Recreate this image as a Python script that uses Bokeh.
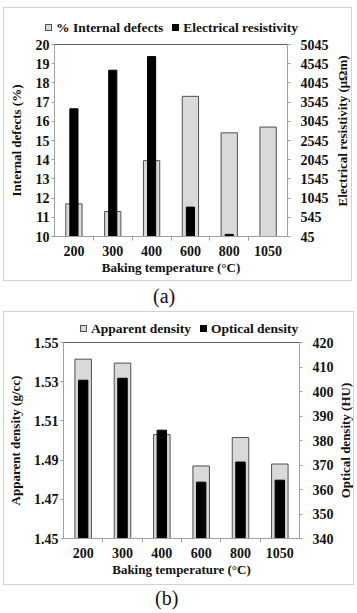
import math
from bokeh.plotting import figure
from bokeh.models import (Range1d, LinearAxis, FixedTicker, ColumnDataSource, Div, Label)
from bokeh.layouts import column, row
from bokeh.embed import file_html
from bokeh.resources import INLINE

temps = ["200", "300", "400", "600", "800", "1050"]
defects = [11.7, 11.3, 13.95, 17.3, 15.4, 15.7]
resistivity = [3370, 4375, 4730, 810, 100, 45]
app_density = [1.5415, 1.5395, 1.503, 1.487, 1.5015, 1.488]
opt_density = [404.6, 405.4, 384.2, 363.0, 371.2, 363.8]

defect_ticks = list(range(10, 21))
resist_ticks = [45, 545, 1045, 1545, 2045, 2545, 3045, 3545, 4045, 4545, 5045]
app_ticks = [1.45, 1.47, 1.49, 1.51, 1.53, 1.55]
opt_ticks = [340, 350, 360, 370, 380, 390, 400, 410, 420]

FONT = "Liberation Serif"
GRAY = "#d9d9d9"
EDGE = "#505050"
AXC = "#a0a0a0"
TXT = "#111111"

xs = [i + 0.5 for i in range(len(temps))]
x_bounds = [float(i) for i in range(1, len(temps))]
labels_map = {x: t for x, t in zip(xs, temps)}


def style_axis(ax):
    ax.major_label_text_font = FONT
    ax.major_label_text_font_style = "bold"
    ax.major_label_text_font_size = "14px"
    ax.major_label_text_color = TXT
    ax.axis_label_text_font = FONT
    ax.axis_label_text_font_style = "bold"
    ax.axis_label_text_font_size = "13px"
    ax.axis_label_text_color = TXT
    ax.axis_line_color = AXC
    ax.major_tick_line_color = AXC
    ax.minor_tick_line_color = AXC
    ax.major_tick_in = 0
    ax.minor_tick_in = 0
    ax.minor_tick_out = 0


def make_panel(width, height, borders, y_rng, y_ticks, y_title, y2_rng, y2_ticks,
               gvals, bvals, bwidth, y_std, r_std):
    bl, br, bt, bb = borders
    p = figure(width=width, height=height, output_backend="svg", toolbar_location=None,
               x_range=Range1d(0, len(temps)), y_range=y_rng,
               min_border_left=bl, min_border_right=br, min_border_top=bt,
               min_border_bottom=bb, margin=0)
    p.background_fill_color = "white"
    p.border_fill_color = "white"
    p.outline_line_color = "#606060"
    p.outline_line_width = 1
    p.xgrid.visible = False
    p.ygrid.visible = False
    p.extra_y_ranges = {"r": y2_rng}

    src = ColumnDataSource(dict(x=xs, g=gvals, b=bvals))
    p.vbar(x="x", top="g", bottom=y_rng.start, width=0.42, source=src,
           fill_color=GRAY, line_color=EDGE, line_width=1)
    p.vbar(x="x", top="b", bottom=y2_rng.start, width=bwidth, source=src,
           fill_color="black", line_color="black", y_range_name="r")

    xa = p.xaxis[0]
    xa.ticker = FixedTicker(ticks=xs, minor_ticks=x_bounds)
    xa.major_label_overrides = labels_map
    xa.axis_label = "Baking temperature (°C)"
    style_axis(xa)
    xa.major_tick_out = 0
    xa.minor_tick_out = 4
    xa.major_label_standoff = 5
    xa.axis_label_standoff = 1

    ya = p.yaxis[0]
    ya.ticker = FixedTicker(ticks=y_ticks)
    ya.axis_label = y_title
    style_axis(ya)
    ya.major_tick_out = 3
    ya.major_label_standoff = 2
    ya.axis_label_standoff = y_std

    ra = LinearAxis(y_range_name="r", ticker=FixedTicker(ticks=y2_ticks))
    style_axis(ra)
    ra.major_tick_out = 3
    ra.major_label_standoff = r_std
    p.add_layout(ra, "right")
    return p


def title_fig(width, height, bt, bb, text, ypos):
    q = figure(width=width, height=height, output_backend="svg", toolbar_location=None,
               x_range=Range1d(0, 1), y_range=Range1d(0, 1),
               x_axis_location=None, y_axis_location=None,
               min_border_left=0, min_border_right=0, min_border_top=bt,
               min_border_bottom=bb, margin=0)
    q.outline_line_color = None
    q.xgrid.visible = False
    q.ygrid.visible = False
    q.add_layout(Label(x=0.5, y=ypos, text=text, angle=math.pi / 2,
                       text_font=FONT, text_font_style="bold", text_font_size="13px",
                       text_color=TXT, text_align="center", text_baseline="middle"))
    return q


def legend_div(gname, bname, width, height, left, top):
    sq = ("display:inline-block;width:7px;height:7px;vertical-align:middle;"
          "position:relative;top:-1px;margin-right:4px;border:1px solid {b};background:{f};")
    html = (f'<div style="font-family:\'{FONT}\';font-weight:bold;font-size:13.5px;'
            f'color:{TXT};white-space:nowrap;line-height:14px;'
            f'padding-top:{top}px;padding-left:{left}px;">'
            f'<span style="{sq.format(b=EDGE, f=GRAY)}"></span>{gname}'
            f'<span style="margin-left:9px;{sq.format(b="#000000", f="#000000")}"></span>{bname}'
            f'</div>')
    return Div(text=html, width=width, height=height, margin=0)


def tag(text, left, height):
    return Div(text=text, width=60, height=height, margin=(0, 0, 0, left),
               styles={"font-family": FONT, "font-size": "20px", "color": TXT,
                       "line-height": f"{height}px"})


la = legend_div("% Internal defects", "Electrical resistivity", 347, 29, 41, 13)
pa = make_panel(329, 243, (50, 46, 7, 44),
                Range1d(10, 20), defect_ticks, "Internal defects (%)",
                Range1d(45, 5045), resist_ticks,
                defects, resistivity, 0.21, 9, 10)
ta = title_fig(18, 243, 7, 44, "Electrical resistivity (μΩm)", 0.55)

lb = legend_div("Apparent density", "Optical density", 349, 24, 76, 10)
pb = make_panel(332, 248, (57, 36, 6, 46),
                Range1d(1.45, 1.55), app_ticks, "Apparent density (g/cc)",
                Range1d(340, 420), opt_ticks,
                app_density, opt_density, 0.24, 8, 10)
tb = title_fig(17, 248, 6, 46, "Optical density (HU)", 0.5)

box_a = column(la, row(pa, ta, spacing=0), spacing=0, margin=(7, 0, 0, 3),
               styles={"border": "1px solid #d2d2d2"})
box_b = column(lb, row(pb, tb, spacing=0), spacing=0, margin=(0, 0, 0, 3),
               styles={"border": "1px solid #d2d2d2"})

layout = column(box_a, tag("(a)", 153, 30), box_b, tag("(b)", 155, 27), spacing=0, margin=0)
open("out.html", "w").write(file_html(layout, INLINE))
